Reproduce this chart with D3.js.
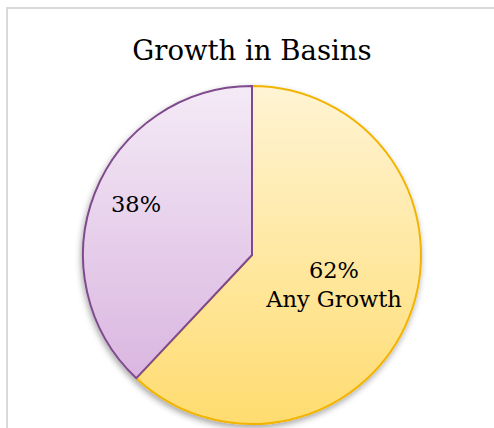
<!DOCTYPE html>
<html><head><meta charset="utf-8">
<script src="https://cdn.jsdelivr.net/npm/d3@7"></script>
<style>html,body{margin:0;padding:0;background:#fff;overflow:hidden}</style>
</head><body>
<svg id="c" width="494" height="428"></svg>
<script>
const title = "Growth in Basins";
const categories = ["Any Growth", "No Growth"];
const values = [62, 38];
const labels = ["62%\nAny Growth", "38%"];

const svg = d3.select("#c");
const defs = svg.append("defs");
const grads = [
  {id:"gY", top:"#FFF4D4", bot:"#FFDC70"},
  {id:"gP", top:"#F4EAF6", bot:"#D6AEDD"}
];
const cx = 252, cy = 255, r = 169;
grads.forEach(g => {
  const lg = defs.append("linearGradient").attr("id", g.id)
    .attr("gradientUnits","userSpaceOnUse")
    .attr("x1",0).attr("y1",-r).attr("x2",0).attr("y2",r);
  lg.append("stop").attr("offset","0").attr("stop-color",g.top);
  lg.append("stop").attr("offset","1").attr("stop-color",g.bot);
});
const f = defs.append("filter").attr("id","sh").attr("x","-20%").attr("y","-20%").attr("width","140%").attr("height","140%");
f.append("feDropShadow").attr("dx",-1).attr("dy",3).attr("stdDeviation",3).attr("flood-color","#000").attr("flood-opacity",0.35);

svg.append("rect").attr("x",7).attr("y",8).attr("width",500).attr("height",440)
  .attr("fill","#fff").attr("stroke","#d9d9d9").attr("stroke-width",2);

svg.append("text").attr("x",252).attr("y",60).attr("text-anchor","middle")
  .attr("font-family","'DejaVu Serif','Liberation Serif',serif").attr("font-size",27.5)
  .attr("fill","#000").text(title);

const pie = d3.pie().sort(null).value(d => d);
const arcs = pie(values);
const arc = d3.arc().innerRadius(0).outerRadius(r);
const fills = ["url(#gY)","url(#gP)"];
const strokes = ["#F2B400","#7F4A8E"];
const g = svg.append("g").attr("transform",`translate(${cx},${cy})`);
g.append("g").attr("filter","url(#sh)").selectAll("path").data(arcs).join("path")
  .attr("d", arc).attr("fill",(d,i)=>fills[i]).attr("stroke",(d,i)=>strokes[i]).attr("stroke-width",2);

const labelPos = [[82, 23], [-116, -43]];
arcs.forEach((d,i) => {
  const lines = labels[i].split("\n");
  const t = g.append("text").attr("text-anchor","middle")
    .attr("font-family","'DejaVu Serif','Liberation Serif',serif").attr("font-size",22.5).attr("fill","#000");
  lines.forEach((ln,j) => {
    t.append("tspan").attr("x",labelPos[i][0]).attr("y",labelPos[i][1] + j*29).text(ln);
  });
});
</script>
</body></html>
